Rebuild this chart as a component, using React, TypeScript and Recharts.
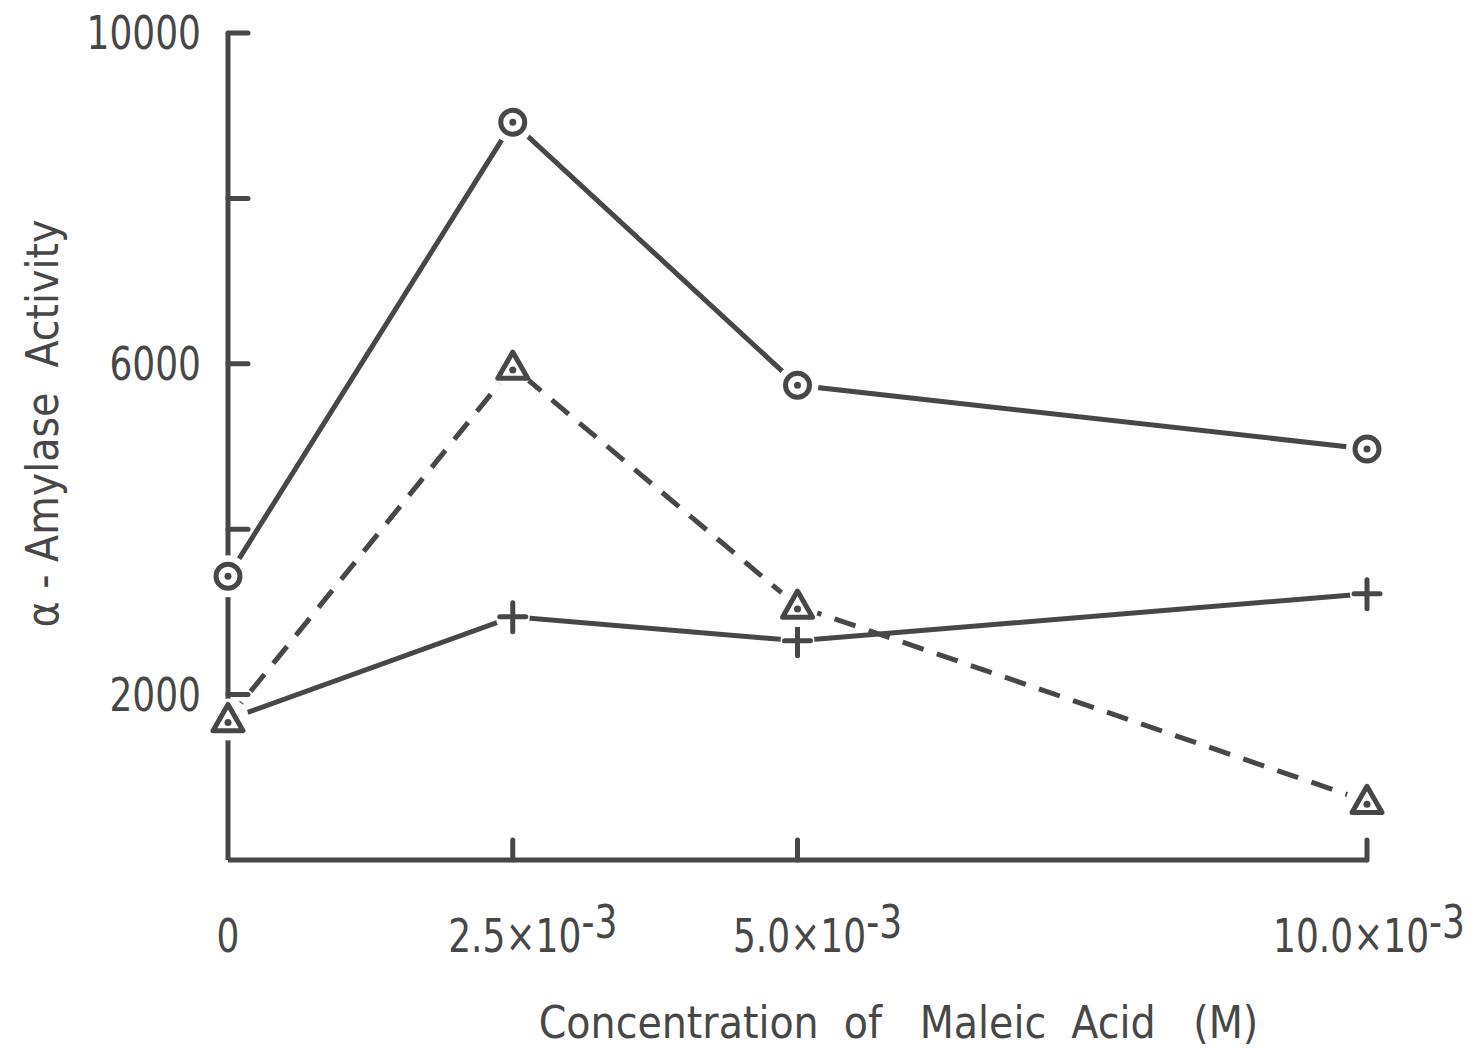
import React from "react";
import { Label, Line, LineChart, XAxis, YAxis } from "recharts";

// Maleic acid concentration (×10^-3 M) and α-amylase activity.
const concentration = [0, 2.5, 5, 10];
const circleSeries = [3430, 8920, 5740, 4970];
const triangleSeries = [1700, 5960, 3070, 710];
const plusSeries = [1700, 2940, 2650, 3220];

const xTicks = [0, 2.5, 5, 10];
const xTickBase = ["0", "2.5×10", "5.0×10", "10.0×10"];
const xTickExp = ["", "-3", "-3", "-3"];

const yTicks = [0, 2000, 4000, 6000, 8000, 10000];
const yLabelled = [2000, 6000, 10000];

const INK = "#474747";
const FONT = "'DejaVu Sans Condensed', 'DejaVu Sans', sans-serif";
// the lettering in the original is narrower than any installed face
const SQUEEZE = 0.87;

const rows = concentration.map((c, i) => ({
  conc: c,
  circle: circleSeries[i],
  triangle: triangleSeries[i],
  plus: plusSeries[i],
}));

function YTick(props: any) {
  const { x, y, payload } = props;
  const v = payload.value as number;
  return (
    <g>
      {v !== 0 && (
        <line x1={x} x2={x + 20} y1={y} y2={y} stroke={INK} strokeWidth={5} strokeLinecap="round" />
      )}
      {yLabelled.includes(v) && (
        <g transform={`translate(${x - 27},${y + 16}) scale(${SQUEEZE},1)`}>
          <text x={0} y={0} textAnchor="end" fill={INK} fontFamily={FONT} fontSize={46}>
            {String(v)}
          </text>
        </g>
      )}
    </g>
  );
}

function XTick(props: any) {
  const { x, y, payload } = props;
  const i = xTicks.indexOf(payload.value);
  const exp = xTickExp[i];
  const last = i === xTicks.length - 1;
  // the rightmost label is pulled back so it ends inside the page, as in the original
  const tx = !exp ? x : last ? x + 98 : x + 20;
  return (
    <g>
      {payload.value !== 0 && (
        <line x1={x} x2={x} y1={y} y2={y - 20} stroke={INK} strokeWidth={5} strokeLinecap="round" />
      )}
      <g transform={`translate(${tx},${y + 92}) scale(${SQUEEZE},1)`}>
        <text x={0} y={0} textAnchor={last ? "end" : "middle"} fill={INK} fontFamily={FONT} fontSize={46}>
          <tspan>{xTickBase[i]}</tspan>
          {exp && <tspan dy={-14}>{exp}</tspan>}
        </text>
      </g>
    </g>
  );
}

function CircleDot(props: any) {
  const { cx, cy } = props;
  return (
    <g>
      <circle cx={cx} cy={cy} r={21} fill="#fff" />
      <circle cx={cx} cy={cy} r={12} fill="#fff" stroke={INK} strokeWidth={5} />
      <circle cx={cx} cy={cy} r={3.5} fill={INK} />
    </g>
  );
}

function TriangleDot(props: any) {
  const { cx, cy } = props;
  const s = 15;
  const pts = `${cx},${cy - s} ${cx + s},${cy + s * 0.75} ${cx - s},${cy + s * 0.75}`;
  return (
    <g>
      <circle cx={cx} cy={cy} r={21} fill="#fff" />
      <polygon points={pts} fill="#fff" stroke={INK} strokeWidth={5} strokeLinejoin="round" />
      <circle cx={cx} cy={cy + 3} r={3.5} fill={INK} />
    </g>
  );
}

function PlusDot(props: any) {
  const { cx, cy } = props;
  return (
    <g>
      <circle cx={cx} cy={cy} r={17} fill="#fff" />
      <line x1={cx - 13} x2={cx + 13} y1={cy} y2={cy} stroke={INK} strokeWidth={5} strokeLinecap="round" />
      <line x1={cx} x2={cx} y1={cy - 14} y2={cy + 15} stroke={INK} strokeWidth={5} strokeLinecap="round" />
    </g>
  );
}

export default function App() {
  return (
    <div style={{ position: "absolute", left: 0, top: 0, background: "#fff" }}>
      <LineChart
        width={1476}
        height={1049}
        data={rows}
        margin={{ top: 33, right: 109, bottom: 129, left: 78 }}
      >
        <XAxis
          type="number"
          dataKey="conc"
          domain={[0, 10]}
          ticks={xTicks}
          height={60}
          tickSize={0}
          tickMargin={0}
          tickLine={false}
          axisLine={{ stroke: INK, strokeWidth: 5 }}
          tick={<XTick />}
          interval={0}
        >
          <Label
            content={({ viewBox }: any) => (
              <text
                x={viewBox.x + viewBox.width / 2 + 101}
                y={viewBox.y + 178}
                textAnchor="middle"
                fill={INK}
                fontFamily={FONT}
                fontSize={44}
                style={{ whiteSpace: "pre" }}
              >
                {"Concentration  of   Maleic  Acid   (M)"}
              </text>
            )}
          />
        </XAxis>
        <YAxis
          type="number"
          domain={[0, 10000]}
          ticks={yTicks}
          width={150}
          tickSize={0}
          tickMargin={0}
          tickLine={false}
          axisLine={{ stroke: INK, strokeWidth: 5 }}
          tick={<YTick />}
          interval={0}
        >
          <Label
            content={({ viewBox }: any) => {
              const cx = 58;
              const cy = viewBox.y + viewBox.height / 2 - 23;
              return (
                <text
                  x={cx}
                  y={cy}
                  transform={`rotate(-90 ${cx} ${cy})`}
                  textAnchor="middle"
                  fill={INK}
                  fontFamily={FONT}
                  fontSize={44}
                  style={{ whiteSpace: "pre" }}
                >
                  {"α - Amylase  Activity"}
                </text>
              );
            }}
          />
        </YAxis>
        <Line
          dataKey="plus"
          stroke={INK}
          strokeWidth={5}
          dot={(p: any) => <PlusDot {...p} key={`p-${p.index}`} />}
          activeDot={false}
          isAnimationActive={false}
        />
        <Line
          dataKey="triangle"
          stroke={INK}
          strokeWidth={5}
          strokeDasharray="22 14"
          dot={(p: any) => <TriangleDot {...p} key={`t-${p.index}`} />}
          activeDot={false}
          isAnimationActive={false}
        />
        <Line
          dataKey="circle"
          stroke={INK}
          strokeWidth={5}
          dot={(p: any) => <CircleDot {...p} key={`c-${p.index}`} />}
          activeDot={false}
          isAnimationActive={false}
        />
      </LineChart>
    </div>
  );
}
